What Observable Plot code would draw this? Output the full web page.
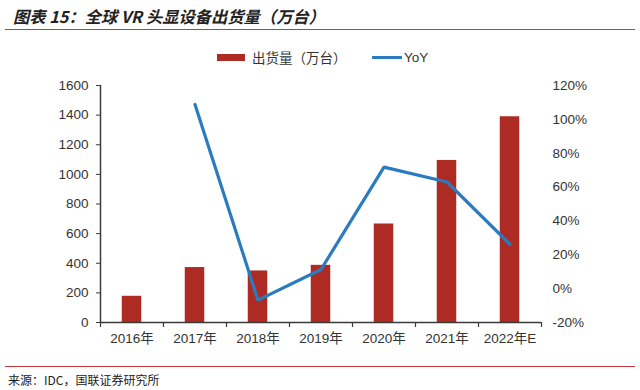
<!DOCTYPE html>
<html><head><meta charset="utf-8">
<script src="https://cdn.jsdelivr.net/npm/d3@7"></script>
<script src="https://cdn.jsdelivr.net/npm/@observablehq/plot@0.6"></script>
<style>
body{margin:0;background:#fff;}
#wrap{position:relative;width:640px;height:390px;overflow:hidden;background:#fff;}
#title{position:absolute;left:5px;top:0;width:630px;height:29px;border-bottom:1.5px solid #c8383a;}
#title span{position:absolute;left:8px;top:4px;font:italic bold 16.3px "Noto Sans CJK SC";color:#222;white-space:nowrap;}
#legend{position:absolute;top:47px;left:0;width:640px;height:20px;font:13.5px "Noto Sans CJK SC";color:#333;}
#legend .item{position:absolute;top:0;height:20px;display:flex;align-items:center;white-space:nowrap;}
#chart{position:absolute;top:70px;left:0;}
#foot{position:absolute;left:5px;top:366px;width:630px;border-top:1.5px solid #c8383a;}
#src{position:absolute;left:8px;top:371px;font:12px "Noto Sans CJK SC";color:#222;white-space:nowrap;}
</style></head>
<body>
<div id="wrap">
  <div id="title"><span>图表 15：全球 VR 头显设备出货量（万台）</span></div>
  <div id="legend"></div>
  <div id="chart"></div>
  <div id="foot"></div>
  <div id="src">来源：IDC，国联证券研究所</div>
</div>
<script>
const categories = ["2016年","2017年","2018年","2019年","2020年","2021年","2022年E"];
const shipments = [177, 371, 348, 386, 665, 1094, 1389];
const yoy = [null, 108.8, -6.8, 11.3, 71.8, 63.0, 26.2];
const leftTicks = [0, 200, 400, 600, 800, 1000, 1200, 1400, 1600];
const rightTicks = [-20, 0, 20, 40, 60, 80, 100, 120];
const seriesNames = ["出货量（万台）", "YoY"];

const barColor = "#ae2b24";
const lineColor = "#2a7bc0";
const axisColor = "#3a3a3a";

const leftMax = 1600, rMin = -20, rMax = 120;
const toLeft = v => (v - rMin) / (rMax - rMin) * leftMax;
const fromLeft = d => Math.round(d / leftMax * (rMax - rMin) + rMin);

const data = categories.map((c, i) => ({cat: c, ship: shipments[i], yoy: yoy[i]}));

const W = 640, H = 285, mL = 100, mR = 99, mT = 15, mB = 33;
const step = (W - mL - mR) / categories.length;
const barW = 19.5;

const chart = Plot.plot({
  width: W, height: H,
  marginLeft: mL, marginRight: mR, marginTop: mT, marginBottom: mB,
  style: {fontFamily: '"Liberation Sans", "Noto Sans CJK SC", sans-serif', fontSize: "13.5px", color: "#333", background: "#fff"},
  x: {type: "band", domain: categories, padding: 0, label: null},
  y: {domain: [0, leftMax], label: null},
  marks: [
    Plot.barY(data, {x: "cat", y: "ship", fill: barColor, insetLeft: (step - barW) / 2, insetRight: (step - barW) / 2}),
    Plot.ruleY([0], {stroke: axisColor, strokeWidth: 1.5}),
    Plot.ruleX([categories[0]], {x: d => d, y1: 0, y2: leftMax, dx: -step / 2, stroke: axisColor, strokeWidth: 1.5}),
    Plot.ruleX(categories, {x: d => d, y1: 0, y2: 0, insetBottom: -5, dx: -step / 2, stroke: axisColor, strokeWidth: 1.2}),
    Plot.ruleX([categories[categories.length - 1]], {x: d => d, y1: 0, y2: 0, insetBottom: -5, dx: step / 2, stroke: axisColor, strokeWidth: 1.2}),
    Plot.line(data.filter(d => d.yoy != null), {x: "cat", y: d => toLeft(d.yoy), stroke: lineColor, strokeWidth: 3.2, strokeLinejoin: "miter"}),
    Plot.axisY(leftTicks, {anchor: "left", tickSize: 4, tickPadding: 8, tickFormat: d => String(d), stroke: axisColor, fill: "#333", label: null}),
    Plot.axisY(rightTicks.map(toLeft), {anchor: "right", tickSize: 0, tickPadding: 11, tickFormat: d => fromLeft(d) + "%", fill: "#333", label: null}),
    Plot.axisX(categories, {anchor: "bottom", tickSize: 0, tickPadding: 11, fill: "#333", label: null})
  ]
});
document.getElementById("chart").appendChild(chart);

// legend
const legend = document.getElementById("legend");
const items = [
  {name: seriesNames[0], left: 217, sw: `<span style="display:inline-block;width:28px;height:7px;background:${barColor};margin-right:7px"></span>`},
  {name: seriesNames[1], left: 372, sw: `<span style="display:inline-block;width:30px;height:3px;background:${lineColor};margin-right:2px"></span>`}
];
for (const it of items) {
  const d = document.createElement("div");
  d.className = "item";
  d.style.left = it.left + "px";
  d.innerHTML = it.sw + `<span style="font-family:${it.name === 'YoY' ? '\'Liberation Sans\'' : '\'Noto Sans CJK SC\''}">${it.name}</span>`;
  legend.appendChild(d);
}
</script>
</body></html>
